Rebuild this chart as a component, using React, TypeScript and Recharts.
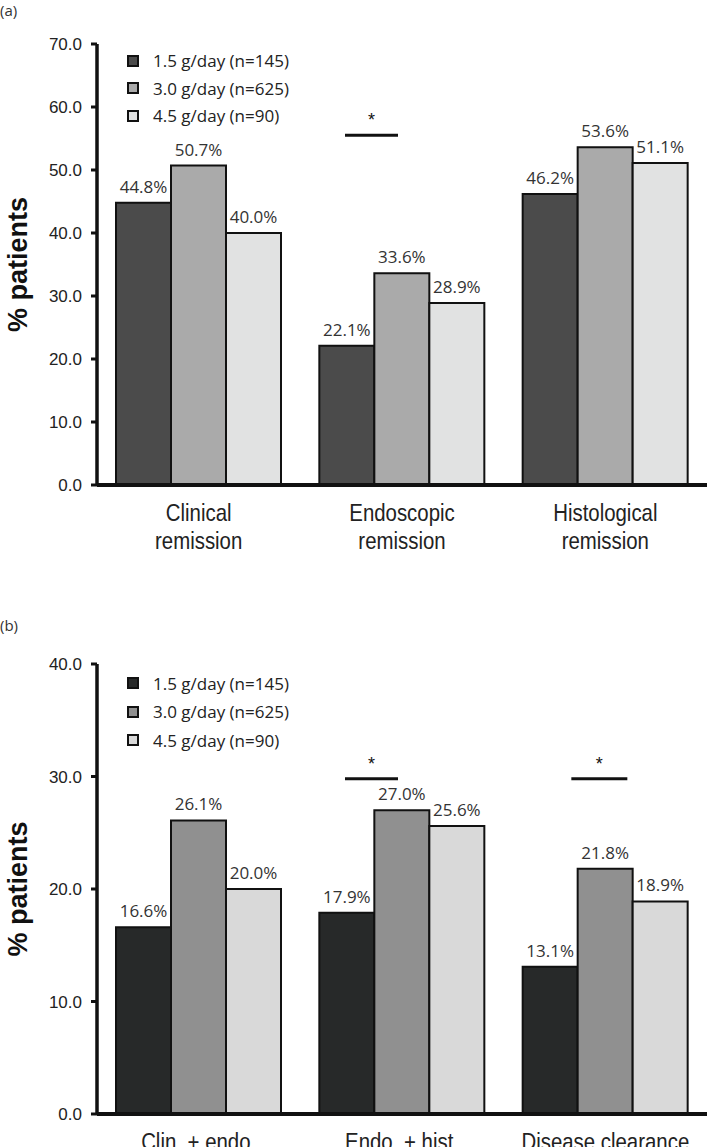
import React from "react";
import {
  Bar,
  BarChart,
  LabelList,
  Legend,
  ReferenceLine,
  XAxis,
  YAxis
} from "recharts";

// panel (a)
const catsA = ["Clinical\nremission", "Endoscopic\nremission", "Histological\nremission"];
const lowA = [44.8, 22.1, 46.2];
const midA = [50.7, 33.6, 53.6];
const highA = [40.0, 28.9, 51.1];
const ticksA = [0, 10, 20, 30, 40, 50, 60, 70];
const sigA = [{ cat: "Endoscopic\nremission", y: 55.5 }];

// panel (b)
const catsB = ["Clin. + endo.", "Endo. + hist.", "Disease clearance"];
const lowB = [16.6, 17.9, 13.1];
const midB = [26.1, 27.0, 21.8];
const highB = [20.0, 25.6, 18.9];
const ticksB = [0, 10, 20, 30, 40];
const sigB = [
  { cat: "Endo. + hist.", y: 29.8 },
  { cat: "Disease clearance", y: 29.8 }
];

const seriesNames = ["1.5 g/day (n=145)", "3.0 g/day (n=625)", "4.5 g/day (n=90)"];

const colorsA = ["#4b4b4b", "#aaaaaa", "#e1e2e2"];
const colorsB = ["#272929", "#909090", "#d9d9d9"];

// horizontal extent of each significance bar, relative to the category centre
const sigSpanA = [[-57, -4]];
const sigSpanB = [[-57, -4], [-34, 22]];

const ARIAL = "'Liberation Sans', Arial, sans-serif";
const OPEN = "'Open Sans', 'Noto Sans', sans-serif";

function build(cats: string[], a: number[], b: number[], c: number[]) {
  return cats.map((cat, i) => ({ cat, s1: a[i], s2: b[i], s3: c[i] }));
}

// narrow-looking category labels (Arial Narrow in the original)
const CatTick = (props: any) => {
  const { x, y, payload } = props;
  const lines = String(payload.value).split("\n");
  return (
    <g transform={`translate(${x},${y}) scale(0.85,1)`}>
      <text x={0} y={0} textAnchor="middle" fontFamily={ARIAL} fontSize={24} fill="#222">
        {lines.map((l, i) => (
          <tspan key={i} x={0} dy={i === 0 ? 36 : 28}>
            {l}
          </tspan>
        ))}
      </text>
    </g>
  );
};

const LegendBox = ({ payload, rowH }: any) => (
  <div style={{ fontFamily: OPEN, fontSize: 17, color: "#222", textAlign: "left" }}>
    {(payload || []).map((p: any) => (
      <div key={p.value} style={{ display: "flex", alignItems: "center", height: rowH }}>
        <span
          style={{
            display: "inline-block",
            width: 8,
            height: 8,
            background: p.color,
            border: "2px solid #111",
            marginRight: 14
          }}
        />
        <span>{p.value}</span>
      </div>
    ))}
  </div>
);

const sigShape = (span: number[]) => (props: any) => {
  const { x1, y1 } = props;
  return (
    <g>
      <line x1={x1 + span[0]} x2={x1 + span[1]} y1={y1} y2={y1} stroke="#111" strokeWidth={3} />
      <text
        x={x1 + (span[0] + span[1]) / 2}
        y={y1 - 9}
        textAnchor="middle"
        fontFamily={ARIAL}
        fontSize={18}
        fill="#111"
      >
        *
      </text>
    </g>
  );
};

type PanelProps = {
  data: any[];
  colors: string[];
  ticks: number[];
  sig: { cat: string; y: number }[];
  spans: number[][];
  height: number;
  top: number;
  bottom: number;
  xHeight: number;
  legendTop: number;
  rowH: number;
};

function Panel({ data, colors, ticks, sig, spans, height, top, bottom, xHeight, legendTop, rowH }: PanelProps) {
  const max = ticks[ticks.length - 1];
  return (
    <BarChart
      width={709}
      height={height}
      data={data}
      margin={{ top, right: 2, left: 0, bottom }}
      barCategoryGap={19}
      barGap={0}
    >
      <XAxis
        dataKey="cat"
        tickLine={false}
        axisLine={{ stroke: "#111", strokeWidth: 4 }}
        tick={<CatTick />}
        tickSize={0}
        tickMargin={0}
        height={xHeight}
        interval={0}
      />
      <YAxis
        width={97}
        domain={[0, max]}
        ticks={ticks}
        tickFormatter={(v: number) => v.toFixed(1)}
        tick={{ fontFamily: ARIAL, fontSize: 17, fill: "#222" }}
        tickSize={6}
        tickMargin={9}
        tickLine={{ stroke: "#111", strokeWidth: 3 }}
        axisLine={{ stroke: "#111", strokeWidth: 3.5 }}
        label={{
          value: "% patients",
          content: ({ viewBox }: any) => {
            const cy = viewBox.y + viewBox.height / 2;
            return (
              <text
                x={18}
                y={cy}
                transform={`rotate(-90, 18, ${cy})`}
                textAnchor="middle"
                dominantBaseline="central"
                fontFamily={ARIAL}
                fontWeight="bold"
                fontSize={27}
                fill="#111"
              >
                % patients
              </text>
            );
          }
        }}
      />
      {/* centred + middle keeps the legend out of the plot offset; wrapperStyle places it */}
      <Legend
        layout="horizontal"
        verticalAlign="middle"
        align="center"
        wrapperStyle={{ top: legendTop, left: 127, width: "auto" }}
        content={(p: any) => <LegendBox payload={p.payload} rowH={rowH} />}
      />
      {["s1", "s2", "s3"].map((k, i) => (
        <Bar
          key={k}
          dataKey={k}
          name={seriesNames[i]}
          fill={colors[i]}
          stroke="#111"
          strokeWidth={2}
          isAnimationActive={false}
        >
          <LabelList
            dataKey={k}
            position="top"
            offset={10}
            formatter={(v: any) => `${Number(v).toFixed(1)}%`}
            style={{ fontFamily: OPEN, fontSize: 17, fill: "#333" }}
          />
        </Bar>
      ))}
      {sig.map((s, i) => (
        <ReferenceLine
          key={i}
          segment={[
            { x: s.cat, y: s.y },
            { x: s.cat, y: s.y }
          ]}
          shape={sigShape(spans[i])}
        />
      ))}
    </BarChart>
  );
}

export default function App() {
  const dataA = build(catsA, lowA, midA, highA);
  const dataB = build(catsB, lowB, midB, highB);
  return (
    <div style={{ position: "absolute", left: 0, top: 0, width: 709, height: 1147, overflow: "hidden", background: "#fff" }}>
      <div style={{ position: "absolute", left: 0, top: 0, fontFamily: OPEN, fontSize: 15, color: "#333" }}>(a)</div>
      <div style={{ position: "absolute", left: 0, top: 0 }}>
        <Panel
          data={dataA}
          colors={colorsA}
          ticks={ticksA}
          sig={sigA}
          spans={sigSpanA}
          height={575}
          top={44}
          bottom={10}
          xHeight={80}
          legendTop={47}
          rowH={27.5}
        />
      </div>
      <div style={{ position: "absolute", left: 0, top: 615, fontFamily: OPEN, fontSize: 15, color: "#333" }}>(b)</div>
      <div style={{ position: "absolute", left: 0, top: 600 }}>
        <Panel
          data={dataB}
          colors={colorsB}
          ticks={ticksB}
          sig={sigB}
          spans={sigSpanB}
          height={547}
          top={64}
          bottom={0}
          xHeight={33}
          legendTop={69}
          rowH={28.5}
        />
      </div>
    </div>
  );
}
